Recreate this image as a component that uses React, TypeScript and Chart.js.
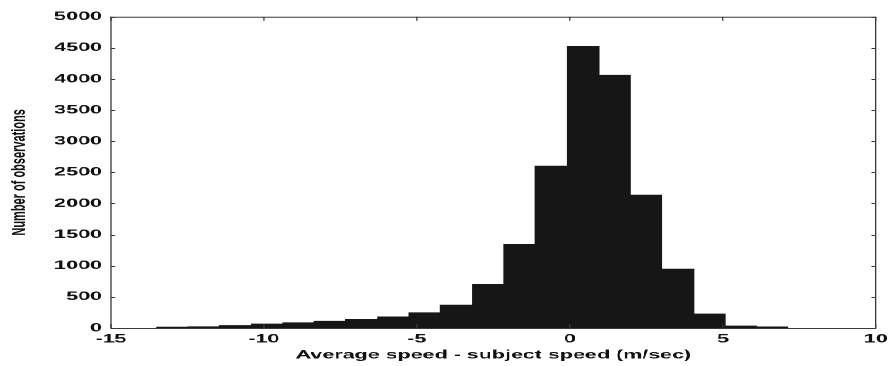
import { useEffect, useRef } from 'react';
import { Chart, registerables } from 'chart.js';

Chart.register(...registerables);

// Histogram: 20 equal bins (centres in m/sec) and their counts
const binCenters = [
  -12.994, -11.962, -10.93, -9.898, -8.866, -7.834, -6.802, -5.77, -4.738, -3.706,
  -2.674, -1.642, -0.61, 0.422, 1.454, 2.486, 3.518, 4.55, 5.582, 6.614,
];
const counts = [
  15, 20, 40, 65, 85, 110, 140, 180, 245, 369,
  701, 1343, 2600, 4525, 4060, 2134, 947, 225, 32, 18,
];
const xTicks = [-15, -10, -5, 0, 5, 10];
const yTicks = [0, 500, 1000, 1500, 2000, 2500, 3000, 3500, 4000, 4500, 5000];

const xTitle = 'Average speed - subject speed (m/sec)';
const yTitle = 'Number of observations';

const SX = 1.79; // horizontal stretch of the original figure
const FONT = "'Liberation Sans', Arial, Helvetica, sans-serif";

const framePlugin = {
  id: 'frame',
  afterDraw(chart: any) {
    const { ctx, chartArea } = chart;
    const { left, right, top, bottom } = chartArea;
    const xs = chart.scales.x;
    const ys = chart.scales.y;
    ctx.save();
    ctx.strokeStyle = '#3a3a3a';
    ctx.lineWidth = 1;
    ctx.beginPath();
    ctx.moveTo(left, top + 0.5);
    ctx.lineTo(right, top + 0.5);
    ctx.moveTo(left, bottom + 0.5);
    ctx.lineTo(right, bottom + 0.5);
    ctx.stroke();
    ctx.lineWidth = 0.65;
    ctx.beginPath();
    ctx.moveTo(left, top);
    ctx.lineTo(left, bottom + 1);
    ctx.moveTo(right, top);
    ctx.lineTo(right, bottom + 1);
    ctx.stroke();
    ctx.lineWidth = 0.65;
    ctx.beginPath();
    xs.ticks.forEach((t: any) => {
      const px = xs.getPixelForValue(t.value);
      ctx.moveTo(px, bottom);
      ctx.lineTo(px, bottom - 4);
      ctx.moveTo(px, top);
      ctx.lineTo(px, top + 4);
    });
    ctx.stroke();
    ctx.lineWidth = 1;
    ctx.beginPath();
    ys.ticks.forEach((t: any) => {
      const py = Math.round(ys.getPixelForValue(t.value)) + 0.5;
      ctx.moveTo(left, py);
      ctx.lineTo(left + 2.6, py);
      ctx.moveTo(right, py);
      ctx.lineTo(right - 2.6, py);
    });
    ctx.stroke();
    ctx.restore();
  },
};

export default function App() {
  const ref = useRef<HTMLCanvasElement | null>(null);

  useEffect(() => {
    if (!ref.current) return;
    const chart = new Chart(ref.current, {
      type: 'bar',
      data: {
        datasets: [
          {
            data: binCenters.map((c, i) => ({ x: c, y: counts[i] })),
            backgroundColor: '#161616',
            borderWidth: 0,
            barPercentage: 1,
            categoryPercentage: 1,
          },
        ],
      },
      options: {
        animation: false,
        responsive: true,
        maintainAspectRatio: false,
        devicePixelRatio: 2,
        layout: { padding: { left: 0, right: 8.4, top: 16.7, bottom: 0 } },
        plugins: {
          legend: { display: false },
          tooltip: { enabled: false },
        },
        scales: {
          x: {
            type: 'linear',
            offset: false,
            min: -15,
            max: 10,
            afterBuildTicks: (s: any) => {
              s.ticks = xTicks.map((v) => ({ value: v }));
            },
            afterFit: (s: any) => {
              s.height = 38;
            },
            grid: { display: false, drawTicks: false, offset: false },
            border: { display: false },
            ticks: {
              color: '#111',
              padding: 4,
              maxRotation: 0,
              callback: (v: any) => String(v),
              font: { family: FONT, size: 12, weight: 'bold' },
            },
            title: {
              display: true,
              text: xTitle,
              color: '#111',
              font: { family: FONT, size: 12, weight: 'bold' },
              padding: { top: 0, bottom: 3.8 },
            },
          },
          y: {
            min: 0,
            max: 5000,
            afterBuildTicks: (s: any) => {
              s.ticks = yTicks.map((v) => ({ value: v }));
            },
            afterFit: (s: any) => {
              s.width = 62;
            },
            grid: { display: false, drawTicks: false },
            border: { display: false },
            ticks: {
              color: '#111',
              padding: 5,
              callback: (v: any) => String(v),
              font: { family: FONT, size: 12, weight: 'bold' },
            },
            title: {
              display: true,
              text: yTitle,
              color: '#111',
              font: { family: FONT, size: 11, weight: 'bold' },
              padding: { top: 4.5, bottom: 0 },
            },
          },
        },
      },
      plugins: [framePlugin],
    } as any);
    return () => chart.destroy();
  }, []);

  return (
    <div
      style={{
        position: 'absolute',
        left: 0,
        top: 0,
        width: 500,
        height: 366,
        transform: `scaleX(${SX})`,
        transformOrigin: '0 0',
        background: '#fff',
      }}
    >
      <canvas ref={ref} />
    </div>
  );
}
